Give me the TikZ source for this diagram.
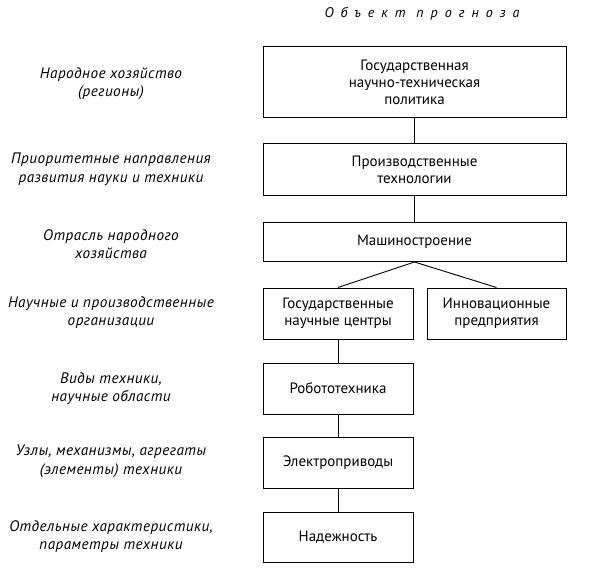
\documentclass[tikz,border=0pt]{standalone}
\usepackage{fontspec}
\setmainfont{PT Sans}
\begin{document}
\begin{tikzpicture}[x=1pt,y=-1pt,
  box/.style={draw, line width=1pt, inner sep=0pt, align=center, font=\fontsize{15}{17}\selectfont},
  lbl/.style={inner sep=0pt, align=center, font=\fontsize{15.2}{18.5}\selectfont\itshape\addfontfeature{LetterSpace=3}},
  conn/.style={line width=0.9pt}]
\useasboundingbox (0,0) rectangle (591,569);
\node[inner sep=0pt, font=\fontsize{14}{15}\selectfont\itshape\addfontfeature{LetterSpace=50}] (title) at (422,14) {Объект прогноза};
\node[box, minimum width=303pt, minimum height=71pt] (b1) at (414.5,82.5) {Государственная\\научно-техническая\\политика};
\node[box, minimum width=303pt, minimum height=52pt] (b2) at (414.5,170) {Производственные\\технологии};
\node[box, minimum width=303pt, minimum height=39pt] (b3) at (414.5,242) {Машиностроение};
\node[box, minimum width=150pt, minimum height=51pt] (b4) at (338,313.5) {Государственные\\научные центры};
\node[box, minimum width=139pt, minimum height=51pt] (b4b) at (496.5,313.5) {Инновационные\\предприятия};
\node[box, minimum width=150pt, minimum height=51pt] (b5) at (338,388.5) {Робототехника};
\node[box, minimum width=150pt, minimum height=51pt] (b6) at (338,462.5) {Электроприводы};
\node[box, minimum width=150pt, minimum height=50pt] (b7) at (338,537) {Надежность};
\draw[conn] (b1) -- (b2);
\draw[conn] (b2) -- (b3);
\draw[conn] (b3.south) -- (b4.north);
\draw[conn] (b3.south) -- (b4b.north);
\draw[conn] (b4) -- (b5);
\draw[conn] (b5) -- (b6);
\draw[conn] (b6) -- (b7);
\node[lbl] (l1) at (111,84) {Народное хозяйство\\(регионы)};
\node[lbl] (l2) at (111,169) {Приоритетные направления\\развития науки и техники};
\node[lbl] (l3) at (111,244) {Отрасль народного\\хозяйства};
\node[lbl] (l4) at (111,312.5) {Научные и производственные\\организации};
\node[lbl] (l5) at (111,388.5) {Виды техники,\\научные области};
\node[lbl] (l6) at (111,461.5) {Узлы, механизмы, агрегаты\\(элементы) техники};
\node[lbl] (l7) at (111,536.5) {Отдельные характеристики,\\параметры техники};
\end{tikzpicture}
\end{document}
